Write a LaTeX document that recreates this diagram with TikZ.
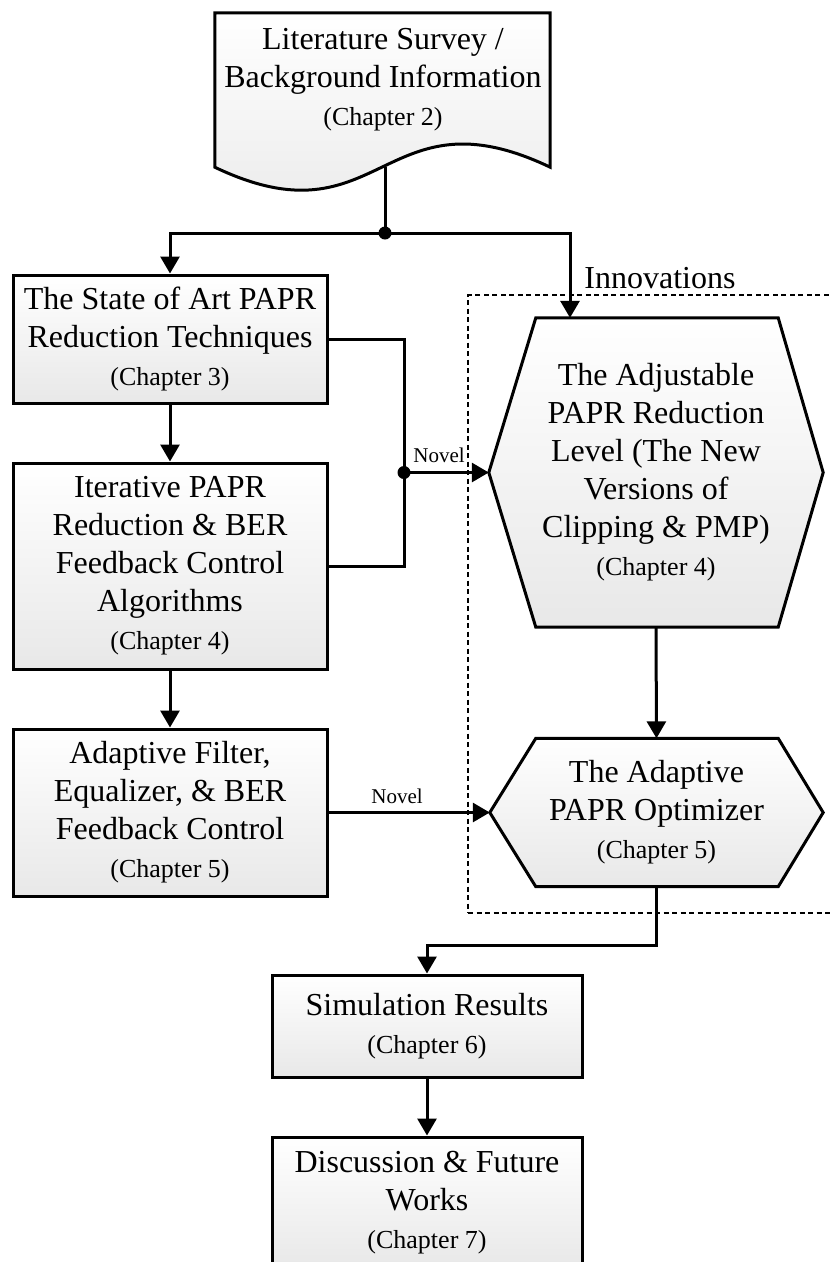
\documentclass[tikz,border=0pt]{standalone}
\usepackage{fontspec}
\setmainfont{Liberation Serif}
\usetikzlibrary{arrows.meta}
\pgfdeclarelayer{bg}
\pgfsetlayers{bg,main}
\definecolor{boxgray}{RGB}{232,232,232}
\newcommand\chapfont{\fontsize{26}{38}\selectfont}
\tikzset{
  mainfont/.style={font=\fontsize{32}{38}\selectfont},
  shadefill/.style={top color=white, bottom color=boxgray},
  stepbox/.style={rectangle, draw, line width=3pt, shadefill, mainfont, align=center, inner sep=0pt},
  hexframe/.style={rectangle, draw=none, mainfont, align=center, inner sep=0pt},
  hexline/.style={draw, line width=3pt, shadefill},
  conn/.style={line width=3pt},
  arr/.style={line width=3pt, -{Triangle[length=17pt,width=19pt]}},
  dashbox/.style={line width=2.4pt, dash pattern=on 5pt off 3.5pt},
  smalllabel/.style={font=\fontsize{21}{24}\selectfont, inner sep=0pt, anchor=base},
}
\begin{document}
\begin{tikzpicture}[x=1pt,y=-1pt]
\useasboundingbox (0,0) rectangle (830,1262);

% document shape (Literature Survey)
\node[hexframe, minimum width=335pt, minimum height=154pt] (litframe) at (382.5,90) {};
\node[mainfont, align=center, inner sep=0pt] (lit) at (383,80)
  {Literature Survey /\\Background Information\\{\chapfont (Chapter 2)}};
\begin{pgfonlayer}{bg}
\path[hexline] (litframe.north west) -- (litframe.north east) -- (litframe.south east)
  .. controls (382,87) and (382,247) .. (litframe.south west) -- cycle;
\end{pgfonlayer}
\coordinate (w) at (385,167);

% left column boxes
\node[stepbox, minimum width=314pt, minimum height=128pt] (box1) at (170,339)
  {The State of Art PAPR\\Reduction Techniques\\{\chapfont (Chapter 3)}};
\node[stepbox, minimum width=314pt, minimum height=206pt] (box2) at (170,566)
  {Iterative PAPR\\Reduction \& BER\\Feedback Control\\Algorithms\\{\chapfont (Chapter 4)}};
\node[stepbox, minimum width=314pt, minimum height=167pt] (box3) at (170,812.5)
  {Adaptive Filter,\\Equalizer, \& BER\\Feedback Control\\{\chapfont (Chapter 5)}};

% hexagons
\node[hexframe, minimum width=334pt, minimum height=309pt] (hexA) at (656,472.5)
  {The Adjustable\\PAPR Reduction\\Level (The New\\Versions of\\Clipping \& PMP)\\{\chapfont (Chapter 4)}};
\node[hexframe, minimum width=333pt, minimum height=148pt] (hexB) at (656.5,812.5)
  {The Adaptive\\PAPR Optimizer\\{\chapfont (Chapter 5)}};
\begin{pgfonlayer}{bg}
\path[hexline] (hexA.west) -- ([xshift=47pt]hexA.north west) -- ([xshift=-45pt]hexA.north east)
  -- (hexA.east) -- ([xshift=-45pt]hexA.south east) -- ([xshift=47pt]hexA.south west) -- cycle;
\path[hexline] (hexB.west) -- ([xshift=46pt]hexB.north west) -- ([xshift=-45pt]hexB.north east)
  -- (hexB.east) -- ([xshift=-45pt]hexB.south east) -- ([xshift=46pt]hexB.south west) -- cycle;
\end{pgfonlayer}

% bottom boxes
\node[stepbox, minimum width=310pt, minimum height=102pt] (sim) at (427,1026)
  {Simulation Results\\{\chapfont (Chapter 6)}};
\node[stepbox, minimum width=310pt, minimum height=132pt] (disc) at (427,1203)
  {Discussion \& Future\\Works\\{\chapfont (Chapter 7)}};

% innovations frame
\node[dashbox, draw, minimum width=377pt, minimum height=618pt, inner sep=0pt] (innov) at (656.5,604) {};
\node[mainfont, inner sep=0pt, anchor=base] (innovlabel) at (660,288) {Innovations};

% connectors
\coordinate (j1) at (385,233);
\coordinate (j2) at (404,472.5);
\draw[conn] (w) -- (j1);
\draw[arr] (j1) -| (box1.north);
\draw[arr] (j1) -| ([xshift=-86pt]hexA.north);
\fill (j1) circle (6.5pt);

\draw[arr] (box1.south) -- (box2.north);
\draw[arr] (box2.south) -- (box3.north);

\draw[conn] (box1.east) -| (j2) |- (box2.east);
\draw[arr] (j2) -- (hexA.west);
\fill (j2) circle (6.5pt);
\node[smalllabel] (novel1) at (439,462) {Novel};

\draw[arr] (box3.east) -- (hexB.west);
\node[smalllabel] (novel2) at (397,803) {Novel};

\draw[arr] (hexA.south) -- (hexB.north);
\draw[arr] (hexB.south) -- ++(0,59) -| (sim.north);
\draw[arr] (sim.south) -- (disc.north);
\end{tikzpicture}
\end{document}
